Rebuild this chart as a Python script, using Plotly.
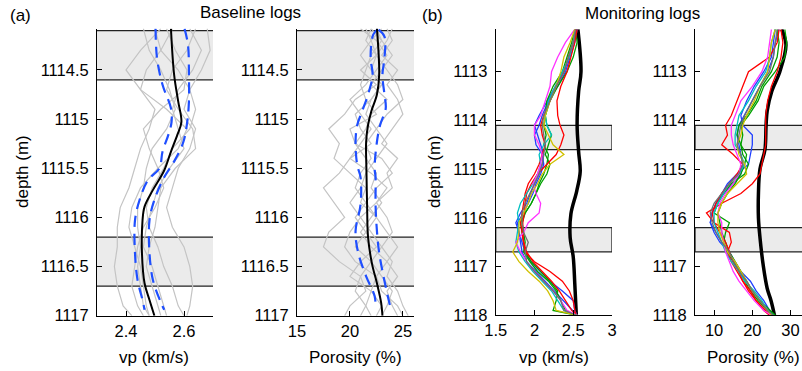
import plotly.graph_objects as go

# ---------------- DATA ----------------
# Baseline vp (km/s) panel
base_vp_depth = [1114.08, 1114.55, 1114.82, 1115.03, 1115.16, 1115.33, 1115.52, 1115.72, 1115.89, 1116.03, 1116.36, 1116.67, 1116.84, 1117.0]
base_vp_mean = [2.555, 2.566, 2.58, 2.591, 2.577, 2.555, 2.532, 2.493, 2.464, 2.457, 2.455, 2.464, 2.481, 2.498]
base_vp_lo_depth = [1114.08, 1114.38, 1114.65, 1114.89, 1115.03, 1115.16, 1115.33, 1115.50, 1115.62, 1115.82, 1116.03, 1116.36, 1116.64, 1116.84, 1116.94]
base_vp_lo = [2.502, 2.507, 2.526, 2.555, 2.557, 2.546, 2.526, 2.515, 2.476, 2.447, 2.431, 2.431, 2.44, 2.457, 2.464]
base_vp_hi_depth = [1114.08, 1114.25, 1114.55, 1114.82, 1115.03, 1115.23, 1115.43, 1115.59, 1115.82, 1116.03, 1116.36, 1116.64, 1116.87, 1116.94]
base_vp_hi = [2.602, 2.614, 2.617, 2.617, 2.611, 2.598, 2.566, 2.532, 2.498, 2.481, 2.481, 2.493, 2.521, 2.532]

base_log_depth = [1114.08, 1114.3, 1114.5, 1114.7, 1114.9, 1115.1, 1115.3, 1115.5, 1115.7, 1115.9, 1116.1, 1116.3, 1116.5, 1116.7, 1116.9, 1117.0]
base_vp_wells = [
    [2.52, 2.45, 2.40, 2.45, 2.50, 2.48, 2.45, 2.43, 2.41, 2.38, 2.37, 2.37, 2.36, 2.37, 2.39, 2.42],
    [2.68, 2.69, 2.66, 2.62, 2.60, 2.64, 2.62, 2.58, 2.56, 2.54, 2.56, 2.60, 2.62, 2.63, 2.62, 2.61],
    [2.56, 2.52, 2.58, 2.62, 2.64, 2.62, 2.56, 2.53, 2.49, 2.47, 2.48, 2.51, 2.53, 2.56, 2.58, 2.60],
    [2.50, 2.52, 2.47, 2.45, 2.54, 2.61, 2.58, 2.51, 2.45, 2.42, 2.41, 2.43, 2.45, 2.46, 2.47, 2.48],
    [2.62, 2.66, 2.63, 2.58, 2.56, 2.58, 2.60, 2.55, 2.51, 2.49, 2.47, 2.46, 2.49, 2.51, 2.53, 2.54],
    [2.54, 2.57, 2.61, 2.60, 2.52, 2.46, 2.48, 2.51, 2.53, 2.50, 2.46, 2.44, 2.43, 2.42, 2.44, 2.46],
    [2.64, 2.61, 2.56, 2.54, 2.58, 2.63, 2.64, 2.57, 2.52, 2.51, 2.50, 2.48, 2.47, 2.49, 2.51, 2.52],
    [2.46, 2.48, 2.52, 2.55, 2.57, 2.54, 2.49, 2.47, 2.46, 2.44, 2.44, 2.45, 2.44, 2.45, 2.46, 2.48],
]

# Baseline porosity (%) panel
base_por_depth = [1114.08, 1114.55, 1114.75, 1114.92, 1115.06, 1115.23, 1115.53, 1115.87, 1116.2, 1116.47, 1116.67, 1116.87, 1117.0]
base_por_mean = [22.55, 22.76, 22.55, 22.02, 21.71, 21.53, 21.56, 21.62, 21.71, 22.08, 22.55, 22.95, 23.07]
base_por_lo_depth = [1114.09, 1114.14, 1114.38, 1114.55, 1114.75, 1114.92, 1115.06, 1115.23, 1115.47, 1115.59, 1115.87, 1116.14, 1116.36, 1116.6, 1116.8, 1116.92]
base_por_lo = [22.6, 22.2, 21.95, 22.14, 21.71, 21.15, 20.69, 20.53, 20.69, 21.0, 21.0, 20.53, 20.78, 21.53, 22.33, 22.42]
base_por_hi_depth = [1114.09, 1114.16, 1114.38, 1114.55, 1114.75, 1114.89, 1115.06, 1115.23, 1115.5, 1115.59, 1115.87, 1116.14, 1116.36, 1116.6, 1116.8, 1116.94]
base_por_hi = [22.7, 23.26, 23.26, 23.07, 23.26, 23.38, 22.85, 22.55, 22.33, 22.42, 22.42, 22.55, 22.76, 23.17, 23.57, 23.88]

base_por_log_depth = [1114.08, 1114.2, 1114.35, 1114.5, 1114.65, 1114.8, 1114.95, 1115.1, 1115.25, 1115.4, 1115.55, 1115.7, 1115.85, 1116.0, 1116.15, 1116.3, 1116.45, 1116.6, 1116.75, 1116.9, 1117.0]
base_por_wells = [
    [22.0, 21.5, 22.5, 21.0, 22.5, 20.5, 19.5, 18.0, 19.0, 18.5, 20.0, 21.5, 21.0, 22.5, 21.5, 20.5, 22.0, 21.0, 21.5, 20.0, 19.5],
    [23.5, 24.0, 23.0, 24.5, 23.5, 24.5, 25.0, 24.0, 23.0, 24.5, 23.5, 24.0, 22.5, 23.5, 24.0, 23.0, 24.0, 23.5, 24.5, 25.0, 25.5],
    [21.5, 22.0, 21.0, 22.0, 23.0, 22.0, 20.5, 21.0, 22.0, 20.0, 19.0, 17.5, 18.5, 19.5, 18.0, 17.5, 19.0, 21.0, 20.5, 21.5, 22.0],
    [22.5, 23.0, 24.0, 23.0, 22.0, 23.5, 22.0, 21.5, 20.5, 21.5, 22.5, 22.0, 23.0, 22.0, 21.0, 22.0, 23.5, 24.5, 23.5, 24.0, 24.5],
    [23.0, 22.0, 22.5, 23.5, 24.5, 25.0, 23.5, 22.5, 21.5, 22.0, 21.0, 20.5, 21.5, 22.5, 23.5, 24.5, 23.5, 22.5, 23.0, 24.5, 25.0],
    [22.0, 23.0, 22.0, 21.5, 21.0, 21.5, 22.5, 20.0, 20.5, 23.0, 24.0, 22.5, 21.5, 20.5, 21.5, 22.5, 21.0, 20.0, 22.0, 23.0, 22.5],
    [24.0, 23.5, 22.5, 22.0, 23.0, 22.0, 21.5, 22.5, 23.5, 22.5, 21.5, 21.0, 20.0, 21.0, 22.0, 23.0, 22.0, 23.0, 24.0, 23.5, 23.0],
    [21.0, 22.5, 23.5, 22.5, 21.5, 20.0, 21.0, 22.0, 21.0, 20.0, 22.0, 23.5, 22.5, 21.0, 20.0, 19.5, 20.5, 22.5, 22.0, 21.5, 21.0],
]

# Monitoring panels
mon_ref_vp_depth = [1112.13, 1113.0, 1113.4, 1114.1, 1114.65, 1115.05, 1115.45, 1115.92, 1116.4, 1116.8, 1117.35, 1118.0]
mon_ref_vp = [2.56, 2.60, 2.57, 2.55, 2.57, 2.59, 2.545, 2.47, 2.46, 2.50, 2.52, 2.54]
mon_ref_por_depth = [1112.13, 1112.45, 1113.0, 1113.4, 1113.8, 1114.1, 1114.6, 1115.0, 1115.5, 1116.0, 1116.4, 1117.0, 1117.45, 1117.7, 1118.0]
mon_ref_por = [27.7, 28.8, 27.2, 25.1, 23.9, 23.6, 23.3, 22.0, 21.6, 21.6, 22.0, 22.9, 23.9, 24.9, 25.8]

mon_depth = [1112.13, 1112.4, 1112.7, 1113.0, 1113.3, 1113.6, 1113.9, 1114.1, 1114.3, 1114.5, 1114.7, 1114.9, 1115.1, 1115.3,
             1115.5, 1115.7, 1115.9, 1116.1, 1116.3, 1116.5, 1116.7, 1116.9, 1117.1, 1117.3, 1117.5, 1117.7, 1117.9, 1118.0]
mon_colors = ["#1f3fff", "#1f3fff", "#00a000", "#00a000", "#ff0000", "#ff0000", "#00c0c0", "#ff33ff", "#d0c000", "#707070"]
mon_vp = [
    [2.54, 2.50, 2.44, 2.38, 2.27, 2.16, 2.06, 2.00, 2.04, 2.08, 2.12, 2.10, 2.06, 2.00, 1.95, 1.90, 1.82, 1.76, 1.80, 1.82, 1.84, 1.90, 2.02, 2.14, 2.25, 2.38, 2.50, 2.55],
    [2.55, 2.52, 2.46, 2.40, 2.30, 2.18, 2.10, 2.06, 2.00, 2.02, 2.10, 2.12, 2.08, 2.02, 1.98, 1.92, 1.86, 1.78, 1.80, 1.84, 1.88, 1.95, 2.08, 2.20, 2.36, 2.50, 2.52, 2.55],
    [2.53, 2.55, 2.50, 2.42, 2.30, 2.20, 2.14, 2.12, 2.15, 2.12, 2.18, 2.16, 2.12, 2.06, 2.02, 1.96, 1.88, 1.82, 1.84, 1.86, 1.88, 1.96, 2.08, 2.20, 2.30, 2.28, 2.24, 2.55],
    [2.52, 2.48, 2.42, 2.36, 2.24, 2.16, 2.14, 2.16, 2.22, 2.18, 2.14, 2.20, 2.16, 2.08, 2.02, 1.96, 1.88, 1.84, 1.86, 1.88, 1.86, 1.94, 2.04, 2.18, 2.28, 2.34, 2.40, 2.54],
    [2.55, 2.52, 2.47, 2.42, 2.34, 2.29, 2.30, 2.33, 2.38, 2.34, 2.28, 2.16, 2.04, 1.96, 1.90, 1.88, 1.87, 1.85, 1.85, 1.86, 1.88, 2.00, 2.20, 2.36, 2.45, 2.50, 2.52, 2.54],
    [2.53, 2.50, 2.44, 2.38, 2.28, 2.20, 2.12, 2.08, 2.10, 2.14, 2.10, 2.06, 2.00, 1.92, 1.88, 1.86, 1.84, 1.82, 1.84, 1.86, 1.90, 1.98, 2.10, 2.22, 2.32, 2.40, 2.48, 2.55],
    [2.52, 2.50, 2.45, 2.36, 2.26, 2.18, 2.14, 2.16, 2.22, 2.12, 2.06, 2.08, 2.04, 1.98, 1.90, 1.82, 1.78, 1.80, 1.78, 1.76, 1.80, 1.88, 1.98, 2.10, 2.22, 2.30, 2.38, 2.55],
    [2.52, 2.40, 2.30, 2.22, 2.20, 2.14, 2.08, 2.00, 2.00, 2.06, 2.10, 2.08, 2.04, 1.98, 2.02, 2.08, 2.06, 1.92, 1.86, 1.76, 1.82, 1.90, 2.00, 2.12, 2.24, 2.34, 2.42, 2.55],
    [2.52, 2.46, 2.38, 2.34, 2.28, 2.20, 2.14, 2.12, 2.18, 2.24, 2.38, 2.20, 2.10, 2.04, 1.96, 1.92, 1.86, 1.80, 1.80, 1.78, 1.72, 1.80, 1.92, 2.06, 2.17, 2.24, 2.28, 2.55],
    [2.53, 2.50, 2.44, 2.38, 2.28, 2.20, 2.12, 2.10, 2.12, 2.14, 2.12, 2.10, 2.06, 2.00, 1.94, 1.88, 1.84, 1.84, 1.86, 1.92, 1.88, 1.90, 2.00, 2.12, 2.24, 2.34, 2.38, 2.55],
]
mon_por = [
    [26.0, 25.5, 25.0, 23.0, 20.5, 18.5, 17.0, 17.5, 20.0, 20.0, 19.5, 19.0, 16.0, 13.5, 12.0, 10.5, 9.5, 9.0, 10.5, 12.0, 13.5, 15.0, 16.5, 18.5, 20.0, 22.0, 24.0, 25.5],
    [27.0, 26.0, 25.5, 24.0, 22.0, 20.0, 18.0, 16.5, 16.0, 16.5, 17.0, 17.5, 17.0, 15.0, 12.5, 10.5, 9.5, 9.0, 10.0, 11.5, 14.0, 15.5, 17.0, 19.5, 21.0, 23.0, 24.5, 25.5],
    [28.5, 29.0, 28.5, 26.0, 23.0, 21.5, 19.0, 17.0, 17.5, 17.0, 18.5, 18.0, 17.0, 15.5, 13.5, 12.0, 11.0, 11.5, 12.0, 13.0, 14.0, 15.5, 17.0, 18.5, 20.0, 22.0, 24.5, 26.0],
    [26.5, 27.0, 26.5, 25.0, 22.5, 21.0, 18.5, 16.5, 16.0, 17.0, 17.5, 19.0, 18.0, 14.5, 12.5, 11.0, 10.0, 14.0, 13.0, 12.5, 13.5, 15.0, 16.5, 18.0, 19.5, 21.5, 24.0, 26.0],
    [27.5, 28.0, 27.5, 26.5, 25.0, 24.0, 23.5, 23.5, 23.5, 23.5, 23.0, 22.5, 22.0, 20.0, 17.0, 12.0, 8.0, 10.0, 14.0, 14.5, 13.5, 14.5, 16.0, 17.5, 19.5, 21.0, 23.5, 25.0],
    [27.0, 26.5, 24.5, 19.0, 17.5, 16.0, 14.5, 13.0, 13.5, 12.0, 15.0, 17.5, 16.0, 14.0, 12.0, 10.5, 9.5, 10.0, 11.5, 13.0, 14.0, 15.0, 16.5, 17.5, 19.0, 21.0, 23.0, 24.5],
    [26.0, 25.0, 24.5, 23.5, 21.0, 19.0, 16.5, 16.0, 15.5, 15.5, 17.0, 18.0, 16.5, 14.0, 12.5, 11.0, 10.0, 10.0, 11.0, 12.0, 13.0, 14.5, 16.5, 18.0, 20.5, 22.5, 24.0, 25.5],
    [25.0, 24.5, 24.0, 22.5, 20.0, 17.0, 15.5, 14.5, 14.5, 15.0, 16.0, 17.0, 16.5, 15.0, 13.0, 11.5, 11.0, 12.0, 12.0, 12.5, 13.0, 14.0, 15.0, 16.5, 18.5, 20.5, 23.0, 25.0],
    [26.0, 25.0, 24.5, 24.0, 22.0, 20.5, 18.5, 17.5, 17.0, 16.0, 16.5, 18.0, 18.5, 16.0, 13.5, 12.0, 11.0, 11.0, 11.5, 12.5, 13.5, 15.5, 17.0, 18.5, 20.0, 22.0, 24.0, 25.0],
    [26.5, 26.0, 25.5, 24.5, 22.0, 20.0, 18.0, 17.0, 16.5, 16.0, 17.0, 17.5, 16.5, 14.0, 12.0, 10.0, 9.0, 9.5, 10.5, 12.0, 14.0, 15.0, 16.5, 18.5, 20.0, 22.0, 24.0, 25.5],
]

# Shaded depth intervals
band_top = [1114.1, 1116.2]
band_bot = [1114.6, 1116.7]

base_vp_ticks = [2.4, 2.6]
base_vp_labels = ["2.4", "2.6"]
base_por_ticks = [15, 20, 25]
base_por_labels = ["15", "20", "25"]
mon_vp_ticks = [1.5, 2, 2.5, 3]
mon_vp_labels = ["1.5", "2", "2.5", "3"]
mon_por_ticks = [10, 20, 30]
mon_por_labels = ["10", "20", "30"]
base_depth_ticks = [1114.5, 1115, 1115.5, 1116, 1116.5, 1117]
base_depth_labels = ["1114.5", "1115", "1115.5", "1116", "1116.5", "1117"]
mon_depth_ticks = [1113, 1114, 1115, 1116, 1117, 1118]
mon_depth_labels = ["1113", "1114", "1115", "1116", "1117", "1118"]

# ---------------- FIGURE ----------------
W, H = 802, 371
FONT = "Liberation Sans, Arial, sans-serif"
FS = 17
TFS = 16.5
GRAY = "#c4c4c4"
BLUE = "#1f4fff"

fig = go.Figure()

def px(x):
    return x / W

def py(y):
    return 1 - y / H

# baseline vp
for w in base_vp_wells:
    fig.add_trace(go.Scatter(x=w, y=base_log_depth, mode="lines", line=dict(color=GRAY, width=1.2), xaxis="x", yaxis="y"))
fig.add_trace(go.Scatter(x=base_vp_lo, y=base_vp_lo_depth, mode="lines", line=dict(color=BLUE, width=2.2, dash="11px,7px", shape="spline"), xaxis="x", yaxis="y"))
fig.add_trace(go.Scatter(x=base_vp_hi, y=base_vp_hi_depth, mode="lines", line=dict(color=BLUE, width=2.2, dash="11px,7px", shape="spline"), xaxis="x", yaxis="y"))
fig.add_trace(go.Scatter(x=base_vp_mean, y=base_vp_depth, mode="lines", line=dict(color="black", width=2, shape="spline"), xaxis="x", yaxis="y"))

# baseline porosity
for w in base_por_wells:
    fig.add_trace(go.Scatter(x=w, y=base_por_log_depth, mode="lines", line=dict(color=GRAY, width=1.2), xaxis="x2", yaxis="y2"))
fig.add_trace(go.Scatter(x=base_por_lo, y=base_por_lo_depth, mode="lines", line=dict(color=BLUE, width=2.2, dash="11px,7px", shape="spline"), xaxis="x2", yaxis="y2"))
fig.add_trace(go.Scatter(x=base_por_hi, y=base_por_hi_depth, mode="lines", line=dict(color=BLUE, width=2.2, dash="11px,7px", shape="spline"), xaxis="x2", yaxis="y2"))
fig.add_trace(go.Scatter(x=base_por_mean, y=base_por_depth, mode="lines", line=dict(color="black", width=2, shape="spline"), xaxis="x2", yaxis="y2"))

# monitoring vp
fig.add_trace(go.Scatter(x=mon_ref_vp, y=mon_ref_vp_depth, mode="lines", line=dict(color="black", width=3.5, shape="spline"), xaxis="x3", yaxis="y3"))
for c, v in zip(mon_colors, mon_vp):
    fig.add_trace(go.Scatter(x=v, y=mon_depth, mode="lines", line=dict(color=c, width=1.3), xaxis="x3", yaxis="y3"))

# monitoring porosity
fig.add_trace(go.Scatter(x=mon_ref_por, y=mon_ref_por_depth, mode="lines", line=dict(color="black", width=3.5, shape="spline"), xaxis="x4", yaxis="y4"))
for c, v in zip(mon_colors, mon_por):
    fig.add_trace(go.Scatter(x=v, y=mon_depth, mode="lines", line=dict(color=c, width=1.3), xaxis="x4", yaxis="y4"))

# shapes (bands)
shapes = []
BAND_FILL = "#ebebeb"
BAND_LINE = dict(color="#222222", width=1.3)
for xa, ya in [("x", "y"), ("x2", "y2")]:
    for t, b in zip(band_top, band_bot):
        shapes.append(dict(type="rect", xref=f"{xa} domain", yref=ya, x0=0, x1=1, y0=t, y1=b,
                           fillcolor=BAND_FILL, line=dict(width=0), layer="below"))
        for yy in (t, b):
            shapes.append(dict(type="line", xref=f"{xa} domain", yref=ya, x0=0, x1=1, y0=yy, y1=yy,
                               line=BAND_LINE, layer="below"))
for xa, ya, x0, x1 in [("x3", "y3", 1.5, 3.0), ("x4", "y4", 5, 40)]:
    for t, b in zip(band_top, band_bot):
        shapes.append(dict(type="rect", xref=xa, yref=ya, x0=x0, x1=x1, y0=t, y1=b,
                           fillcolor=BAND_FILL, line=BAND_LINE, layer="below"))

axis_common = dict(showline=True, linecolor="black", linewidth=1, ticks="inside", ticklen=5,
                   tickcolor="black", showgrid=False, zeroline=False, mirror=False, automargin=False,
                   tickfont=dict(family=FONT, size=TFS, color="black"))

yb = [py(315.7), py(28.5)]
ym = [py(315.3), py(29.3)]

fig.update_layout(
    width=W, height=H,
    margin=dict(l=0, r=0, t=0, b=0, autoexpand=False),
    paper_bgcolor="white", plot_bgcolor="rgba(0,0,0,0)",
    showlegend=False,
    shapes=shapes,
    xaxis=dict(domain=[px(97), px(213)], range=[2.3, 2.7], tickvals=base_vp_ticks, ticktext=base_vp_labels, anchor="y", **axis_common),
    yaxis=dict(domain=yb, range=[1117, 1114.078], tickvals=base_depth_ticks, ticktext=base_depth_labels, anchor="x", ticklabelstandoff=4, **axis_common),
    xaxis2=dict(domain=[px(297), px(414)], range=[15, 26.05], tickvals=base_por_ticks, ticktext=base_por_labels, anchor="y2", **axis_common),
    yaxis2=dict(domain=yb, range=[1117, 1114.078], tickvals=base_depth_ticks, ticktext=base_depth_labels, anchor="x2", ticklabelstandoff=4, **axis_common),
    xaxis3=dict(domain=[px(495.7), px(612)], range=[1.5, 3.0], tickvals=mon_vp_ticks, ticktext=mon_vp_labels, anchor="y3", **axis_common),
    yaxis3=dict(domain=ym, range=[1118, 1112.13], tickvals=mon_depth_ticks, ticktext=mon_depth_labels, anchor="x3", ticklabelstandoff=4, **axis_common),
    xaxis4=dict(domain=[px(695), 1.0], range=[5, 33.0], tickvals=mon_por_ticks, ticktext=mon_por_labels, anchor="y4", **axis_common),
    yaxis4=dict(domain=ym, range=[1118, 1112.13], tickvals=mon_depth_ticks, ticktext=mon_depth_labels, anchor="x4", ticklabelstandoff=4, **axis_common),
)

def label(text, x, y, angle=0):
    fig.add_annotation(text=text, x=px(x), y=py(y), xref="paper", yref="paper", showarrow=False,
                       xanchor="center", yanchor="middle", textangle=angle,
                       font=dict(family=FONT, size=FS, color="black"))

label("(a)", 20, 16)
label("Baseline logs", 250, 12)
label("(b)", 432, 16)
label("Monitoring logs", 642, 14)
label("vp (km/s)", 154, 357)
label("Porosity (%)", 355, 357)
label("vp (km/s)", 554, 357)
label("Porosity (%)", 753, 357)
label("depth (m)", 22, 172, -90)
label("depth (m)", 434, 172, -90)

fig.write_html("out.html", config={"displayModeBar": False},
               post_script="document.body.style.margin='0';document.body.style.overflow='hidden';")
